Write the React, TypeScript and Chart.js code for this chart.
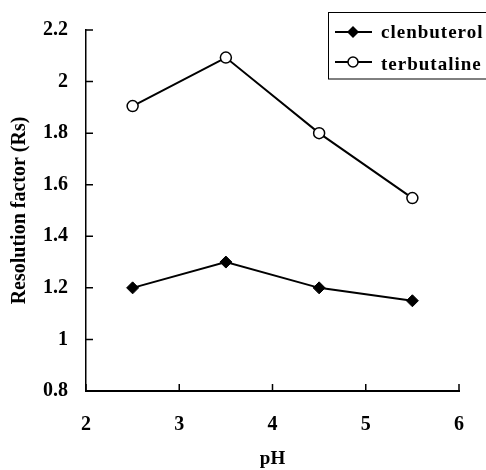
import React, { useEffect, useRef } from "react";
import { Chart, registerables } from "chart.js";

Chart.register(...registerables);

const phValues = [2.5, 3.5, 4.5, 5.5];
const clenbuterol = [1.2, 1.3, 1.2, 1.15];
const terbutaline = [1.905, 2.093, 1.8, 1.548];
const xTicks = [2, 3, 4, 5, 6];
const yTicks = [0.8, 1, 1.2, 1.4, 1.6, 1.8, 2, 2.2];
const seriesNames = ["clenbuterol", "terbutaline"];

const FONT = "'Liberation Serif', 'Times New Roman', serif";

const inwardTicks = {
  id: "inwardTicks",
  afterDraw(chart: any) {
    const { ctx, chartArea, scales } = chart;
    ctx.save();
    ctx.strokeStyle = "#000";
    ctx.lineWidth = 1.5;
    ctx.beginPath();
    for (const v of yTicks) {
      const y = scales.y.getPixelForValue(v);
      ctx.moveTo(chartArea.left, y);
      ctx.lineTo(chartArea.left + 7, y);
    }
    for (const v of xTicks) {
      const x = scales.x.getPixelForValue(v);
      ctx.moveTo(x, chartArea.bottom);
      ctx.lineTo(x, chartArea.bottom - 7);
    }
    ctx.stroke();
    ctx.restore();
  },
};

const boxLegend = {
  id: "boxLegend",
  afterDraw(chart: any) {
    const { ctx } = chart;
    ctx.save();
    ctx.strokeStyle = "#000";
    ctx.lineWidth = 1;
    ctx.strokeRect(328.5, 12.5, 180, 66.5);
    const rows = [32, 62];
    const baselines = [38, 70];
    chart.data.datasets.forEach((ds: any, i: number) => {
      const y = rows[i];
      ctx.strokeStyle = "#000";
      ctx.lineWidth = 2;
      ctx.beginPath();
      ctx.moveTo(335, y);
      ctx.lineTo(372, y);
      ctx.stroke();
      const cx = 353;
      if (ds.pointStyle === "rectRot") {
        ctx.fillStyle = "#000";
        ctx.beginPath();
        ctx.moveTo(cx, y - 6);
        ctx.lineTo(cx + 6, y);
        ctx.lineTo(cx, y + 6);
        ctx.lineTo(cx - 6, y);
        ctx.closePath();
        ctx.fill();
      } else {
        ctx.fillStyle = "#fff";
        ctx.lineWidth = 1.5;
        ctx.beginPath();
        ctx.arc(cx, y, 5, 0, Math.PI * 2);
        ctx.fill();
        ctx.stroke();
      }
      ctx.fillStyle = "#000";
      ctx.font = `bold 19px ${FONT}`;
      try {
        (ctx as any).letterSpacing = "1px";
      } catch (e) {}
      ctx.textAlign = "left";
      ctx.textBaseline = "alphabetic";
      ctx.fillText(ds.label, 381, baselines[i]);
      try {
        (ctx as any).letterSpacing = "0px";
      } catch (e) {}
    });
    ctx.restore();
  },
};

export default function App() {
  const ref = useRef<HTMLCanvasElement>(null);
  useEffect(() => {
    if (!ref.current) return;
    const chart = new Chart(ref.current, {
      type: "line",
      data: {
        datasets: [
          {
            label: seriesNames[0],
            data: phValues.map((x, i) => ({ x, y: clenbuterol[i] })),
            borderColor: "#000",
            backgroundColor: "#000",
            borderWidth: 2,
            pointStyle: "rectRot",
            pointRadius: 6,
            pointBorderWidth: 1,
            pointBackgroundColor: "#000",
          },
          {
            label: seriesNames[1],
            data: phValues.map((x, i) => ({ x, y: terbutaline[i] })),
            borderColor: "#000",
            backgroundColor: "#fff",
            borderWidth: 2,
            pointStyle: "circle",
            pointRadius: 5.5,
            pointBorderWidth: 1.5,
            pointBackgroundColor: "#fff",
          },
        ],
      },
      options: {
        responsive: false,
        animation: false,
        layout: { padding: { top: 26, right: 27, left: 0, bottom: 0 } },
        plugins: { legend: { display: false }, tooltip: { enabled: false } },
        scales: {
          x: {
            type: "linear",
            min: 2,
            max: 6,
            afterFit: (s: any) => {
              s.height = 79;
            },
            afterBuildTicks: (s: any) => {
              s.ticks = xTicks.map((v) => ({ value: v }));
            },
            ticks: {
              color: "#000",
              padding: 22,
              font: { family: FONT, size: 20, weight: "bold" },
            },
            grid: { drawOnChartArea: false, drawTicks: false },
            border: { color: "#000", width: 2 },
            title: {
              display: true,
              text: "pH",
              color: "#000",
              padding: { top: 0, bottom: 0 },
              font: { family: FONT, size: 19, weight: "bold" },
            },
          },
          y: {
            type: "linear",
            min: 0.8,
            max: 2.2,
            afterFit: (s: any) => {
              s.width = 86;
            },
            afterBuildTicks: (s: any) => {
              s.ticks = yTicks.map((v) => ({ value: v }));
            },
            ticks: {
              color: "#000",
              padding: 18,
              font: { family: FONT, size: 20, weight: "bold" },
              callback: (v: any) => String(Number(Number(v).toFixed(1))),
            },
            grid: { drawOnChartArea: false, drawTicks: false },
            border: { color: "#000", width: 1.5 },
            title: {
              display: true,
              text: "Resolution factor (Rs)",
              color: "#000",
              padding: { top: 8, bottom: 0 },
              font: { family: FONT, size: 20, weight: "bold" },
            },
          },
        },
      },
      plugins: [inwardTicks, boxLegend],
    });
    return () => chart.destroy();
  }, []);
  return (
    <div style={{ position: "absolute", left: 0, top: 0, width: 486, height: 470, background: "#fff" }}>
      <canvas ref={ref} width={486} height={470} style={{ display: "block" }} />
    </div>
  );
}
